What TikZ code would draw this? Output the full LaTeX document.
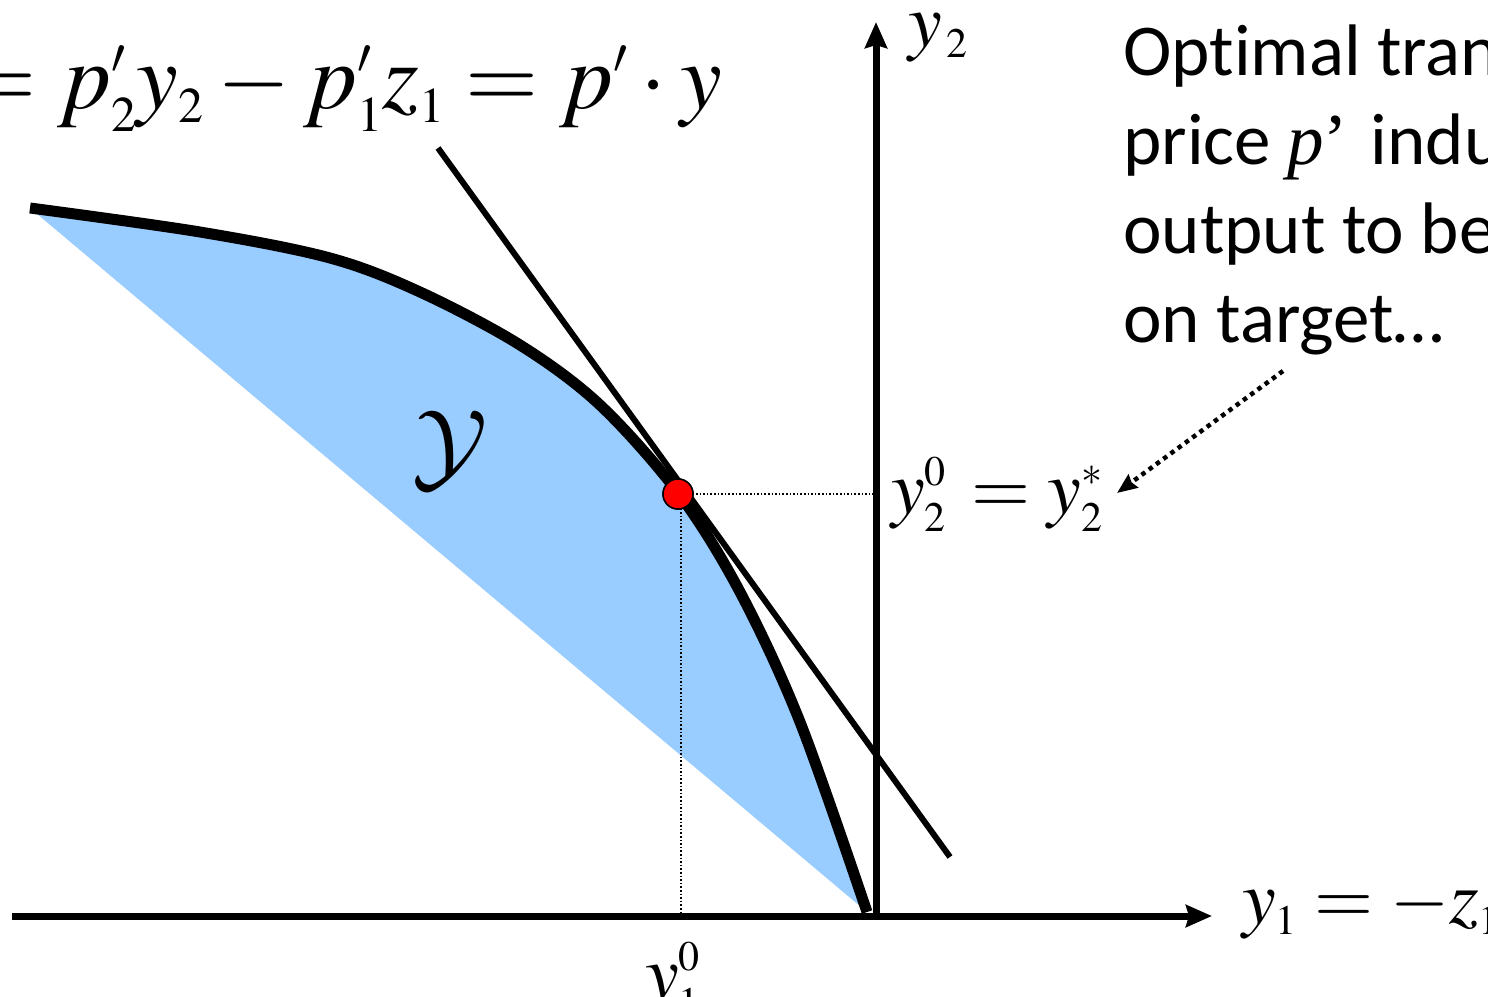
\documentclass[tikz,border=0pt]{standalone}
\usepackage{mathptmx}
\usepackage[no-math]{fontspec}
\setmainfont[Ligatures=NoCommon]{Carlito}
\newfontfamily\tms{Liberation Serif}
\usetikzlibrary{arrows.meta}
\font\calY=cmsy10 at 100pt
\DeclareMathSizes{94}{94}{50}{38}
\DeclareMathSizes{76}{76}{42}{32}
\definecolor{regblue}{RGB}{153,204,255}
\tikzset{
  axis/.style={line width=7pt, -{Stealth[length=26pt,width=22pt,inset=3pt]}},
  tangent/.style={line width=6pt},
  frontier/.style={line width=11pt},
  guide/.style={line width=1.6pt, dotted},
  pointer/.style={line width=4.5pt, dash pattern=on 4.5pt off 4.5pt, -{Stealth[length=20pt,width=16pt,inset=2pt]}},
  mlab/.style={inner sep=0pt, anchor=base west, font=\fontsize{76}{80}\selectfont},
  txt/.style={inner sep=0pt, anchor=base west, font=\fontsize{73}{80}\selectfont},
  optdot/.style={circle, fill=red, draw=black, line width=1.5pt, minimum size=30pt, inner sep=0pt},
}
\begin{document}
\begin{tikzpicture}[x=1pt, y=-1pt]
\useasboundingbox (0,0) rectangle (1488,996);
\clip (0,0) rectangle (1488,996);
% coordinates
\coordinate (O) at (876,916);
\coordinate (xs) at (12,916);
\coordinate (xe) at (1212,916);
\coordinate (ye) at (876,22);
\coordinate (tA) at (438,148);
\coordinate (tB) at (950,857);
\coordinate (hx) at (873,494);
\coordinate (vx) at (681,913);
\coordinate (vt) at (681,494);
\coordinate (aS) at (1283,371);
\coordinate (aE) at (1117,493);
% region
\fill[regblue] plot[smooth,tension=0.55] coordinates {(30,208) (200,232) (330,258) (420,292) (520,345) (600,405) (679,494) (740,592) (800,722) (867,912)} -- cycle;
% dotted guides
\node[optdot] (opt) at (678,494) {};
\draw[guide] (opt.center) -- (hx);
\draw[guide] (vt) -- (vx);
% tangent line
\draw[tangent] (tA) -- (tB);
% frontier
\draw[frontier] plot[smooth,tension=0.55] coordinates {(30,208) (200,232) (330,258) (420,292) (520,345) (600,405) (679,494) (740,592) (800,722) (867,912)};
% axes
\draw[axis] (xs) -- (xe);
\draw[axis] (O) -- (ye);
% optimum point on top
\node[optdot] at (opt.center) {};
% labels
\node[inner sep=0pt, anchor=base east, font=\fontsize{94}{100}\selectfont] (prof) at (722,108) {$= p'_2 y_2 - p'_1 z_1 = p' \cdot y$};
\node[mlab] (ly2) at (908,46) {$y_{\,2}$};
\node[mlab] (ly20) at (891,513) {$y_2^0 \mkern2mu= y_2^*$};
\node[mlab] (ly1) at (1242,923) {$y_1 = -z_1$};
\node[mlab] (ly10) at (645,998) {$y_1^0$};
\node[inner sep=0pt, font=\calY] (setY) at (446,450) {Y};
\node[txt] (t1) at (1123,75) {Optimal transfer};
\node[txt] (t2) at (1123,164) {price {\tms\itshape p}{\tms ’}\hspace{6pt} induces};
\node[txt] (t3) at (1123,253) {output to be};
\node[txt] (t4) at (1123,342) {on target…};
\draw[pointer] (aS) -- (aE);
\end{tikzpicture}
\end{document}
